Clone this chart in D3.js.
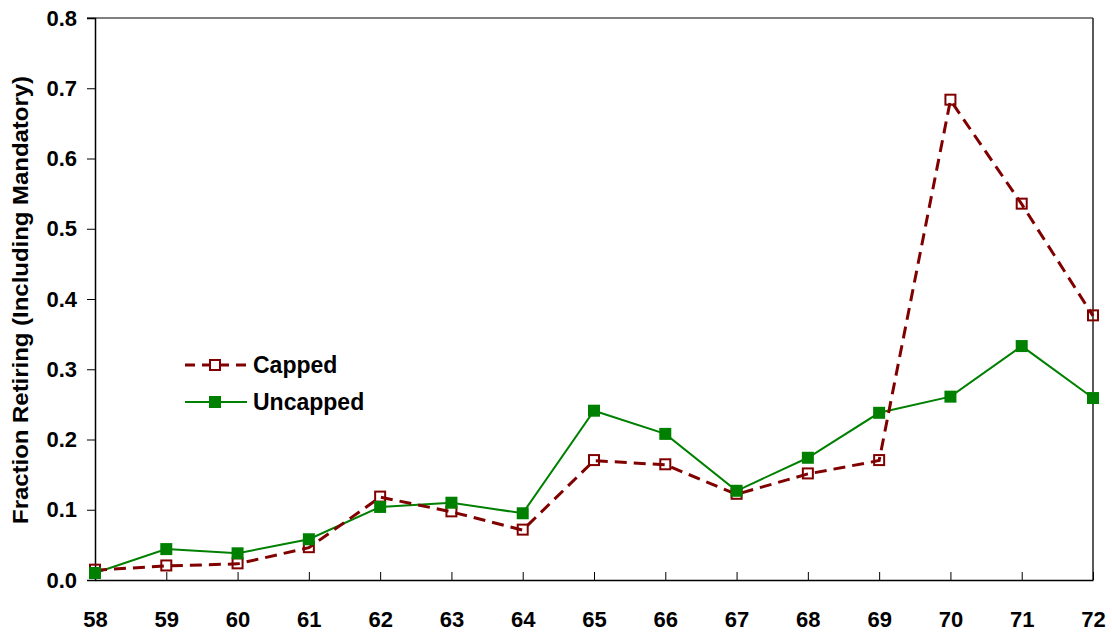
<!DOCTYPE html>
<html><head><meta charset="utf-8">
<script src="https://cdn.jsdelivr.net/npm/d3@7"></script>
<style>body{margin:0;background:#fff}svg{display:block}text{font-family:"Liberation Sans",Arial,sans-serif;font-weight:bold}</style>
</head><body>
<script>
const ages = [58,59,60,61,62,63,64,65,66,67,68,69,70,71,72];
const capped = [0.014,0.020,0.023,0.046,0.118,0.097,0.071,0.170,0.164,0.122,0.151,0.170,0.683,0.535,0.376];
const uncapped = [0.010,0.044,0.038,0.058,0.104,0.110,0.095,0.241,0.208,0.127,0.174,0.238,0.261,0.333,0.259];
const yTicks = [0,0.1,0.2,0.3,0.4,0.5,0.6,0.7,0.8];
const seriesNames = ["Capped","Uncapped"];
const yTitle = "Fraction Retiring (Including Mandatory)";

const W=1112,H=637, L=95,R=1093,T=18,B=580;
const svg=d3.select("body").append("svg").attr("width",W).attr("height",H);
const x=d3.scaleLinear().domain([58,72]).range([L,R]);
const y=d3.scaleLinear().domain([0,0.8]).range([B,T]);

// frame
svg.append("line").attr("x1",L-8).attr("x2",R).attr("y1",T).attr("y2",T).attr("stroke","#808080").attr("stroke-width",2);
svg.append("line").attr("x1",R).attr("x2",R).attr("y1",T).attr("y2",B).attr("stroke","#222").attr("stroke-width",1.5);

// y axis
const ya=svg.append("g").attr("transform",`translate(${L},0)`).call(d3.axisLeft(y).tickValues(yTicks).tickFormat(d3.format(".1f")).tickSize(8).tickPadding(10));
ya.select(".domain").attr("stroke","#000").attr("stroke-width",1.5);
ya.selectAll("line").attr("stroke","#000").attr("stroke-width",1);
ya.selectAll("text").attr("font-size",22).attr("fill","#000").style("font-family","Liberation Sans, Arial").style("font-weight","bold");

// x axis
const xa=svg.append("g").attr("transform",`translate(0,${B})`).call(d3.axisBottom(x).tickValues(ages).tickFormat(d3.format("d")).tickSizeInner(-8).tickSizeOuter(0).tickPadding(31));
xa.select(".domain").attr("stroke","#000").attr("stroke-width",1.5);
xa.selectAll("line").attr("stroke","#000").attr("stroke-width",1);
xa.selectAll("text").attr("font-size",22).attr("fill","#000").style("font-family","Liberation Sans, Arial").style("font-weight","bold");

// y title
svg.append("text").attr("transform",`translate(28,300) rotate(-90)`).attr("text-anchor","middle").attr("font-size",22)
 .attr("textLength",448).attr("lengthAdjust","spacingAndGlyphs").attr("fill","#000").text(yTitle);

const line=d3.line().x((d,i)=>x(ages[i])).y(d=>y(d));
const red="#800000", green="#008000";

svg.append("path").datum(uncapped).attr("d",line).attr("fill","none").attr("stroke",green).attr("stroke-width",2);
svg.append("path").datum(capped).attr("d",line).attr("fill","none").attr("stroke",red).attr("stroke-width",3).attr("stroke-dasharray","12,7");

const ms=11;
svg.selectAll("rect.c").data(capped).enter().append("rect").attr("class","c")
 .attr("x",(d,i)=>x(ages[i])-ms/2+0.5).attr("y",d=>y(d)-ms/2).attr("width",ms-1).attr("height",ms-1)
 .attr("fill","#fff").attr("fill-opacity",0).attr("stroke",red).attr("stroke-width",2);
svg.selectAll("rect.u").data(uncapped).enter().append("rect").attr("class","u")
 .attr("x",(d,i)=>x(ages[i])-6).attr("y",d=>y(d)-6).attr("width",12).attr("height",12)
 .attr("fill",green);

// legend
const lg=svg.append("g");
const ly=[365,402];
lg.append("line").attr("x1",185).attr("x2",247).attr("y1",ly[0]).attr("y2",ly[0]).attr("stroke",red).attr("stroke-width",3).attr("stroke-dasharray","10,7");
lg.append("rect").attr("x",210).attr("y",ly[0]-5).attr("width",10).attr("height",10).attr("fill","#fff").attr("stroke",red).attr("stroke-width",2);
lg.append("line").attr("x1",185).attr("x2",247).attr("y1",ly[1]).attr("y2",ly[1]).attr("stroke",green).attr("stroke-width",2);
lg.append("rect").attr("x",209).attr("y",ly[1]-6).attr("width",12).attr("height",12).attr("fill",green);
seriesNames.forEach((n,i)=>lg.append("text").attr("x",253).attr("y",ly[i]+8).attr("font-size",23).attr("fill","#000").text(n));
</script>
</body></html>
